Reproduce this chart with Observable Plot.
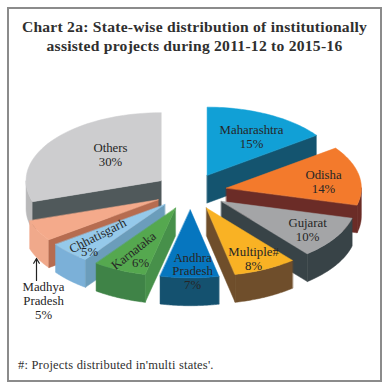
<!DOCTYPE html>
<html>
<head>
<meta charset="utf-8">
<script src="https://cdn.jsdelivr.net/npm/d3@7"></script>
<script src="https://cdn.jsdelivr.net/npm/@observablehq/plot@0.6"></script>
<style>
  html, body { margin: 0; padding: 0; background: #fff; }
  #frame { position: absolute; left: 7px; top: 7px; width: 375px; height: 375px; box-sizing: border-box;
           border: 2px solid #8b8b8b; background: #fff; font-family: "Liberation Serif", serif; color: #2f2f2f; }
  #title { margin: 0; height: 53px; padding-top: 8px; box-sizing: border-box; text-align: center;
           font-size: 15.6px; line-height: 19px; font-weight: bold; letter-spacing: .25px; }
  #chart svg { display: block; }
  #note { margin: 5px 0 0 9px; font-size: 12.5px; line-height: 16px; letter-spacing: .2px; }
</style>
</head>
<body>
<div id="frame">
  <h2 id="title">Chart 2a: State-wise distribution of institutionally<br>assisted projects during 2011-12 to 2015-16</h2>
  <div id="chart"></div>
  <p id="note">#: Projects distributed in'multi states'.</p>
</div>
<script>
// Clockwise from twelve o'clock
const states = ["Maharashtra", "Odisha", "Gujarat", "Multiple#", "Andhra Pradesh", "Karnataka", "Chhatisgarh", "Madhya Pradesh", "Others"];
// Slice sizes (the printed labels are these, rounded)
const shares = [15, 14, 10, 7.6, 7, 6.4, 5, 5, 30];

const topColors   = ["#11a0d6", "#f37a2c", "#a4a5a7", "#f9b224", "#0676bf", "#55a84f", "#95c9ea", "#f4aa8b", "#cdcdcf"];
const cutColors   = ["#14546f", "#6b2c27", "#384347", "#6f4e2b", "#14516f", "#47904a", "#6b9dbb", "#b66c50", "#50595b"];
const outerColors = ["#14546f", "#6b2c27", "#384347", "#6f4e2b", "#14516f", "#3f8347", "#7bb0d8", "#f0a98b", "#b9b9ba"];

// Painter's order, back to front (indexes into states)
const drawOrder = [8, 0, 1, 2, 7, 6, 5, 3, 4];

// Pie units: radius 1; exploded by `explode`, extruded by `depth`
const explode = 0.27;
const depth = 0.41;

const total = d3.sum(shares);
const turn = 2 * Math.PI;
const ends = d3.cumsum(shares).map(v => v / total * turn);
const slices = states.map((name, i) => {
  const a0 = i ? ends[i - 1] : 0, a1 = ends[i], mid = (a0 + a1) / 2;
  return {name, a0, a1, ox: explode * Math.sin(mid), oy: explode * Math.cos(mid),
          top: topColors[i], cut: cutColors[i], outer: outerColors[i]};
});

const arc = (s, a0, a1, drop = 0) => d3.range(0, 41).map(k => {
  const a = a0 + (a1 - a0) * k / 40;
  return [s.ox + Math.sin(a), s.oy + Math.cos(a) - drop];
});
const polygon = (ring, fill) => Plot.line(ring, {x: d => d[0], y: d => d[1], fill, stroke: fill, strokeWidth: 0.5, curve: "linear-closed"});
const cutFace = (s, a, fill) => polygon([
  [s.ox, s.oy], [s.ox + Math.sin(a), s.oy + Math.cos(a)],
  [s.ox + Math.sin(a), s.oy + Math.cos(a) - depth], [s.ox, s.oy - depth]], fill);

const faces = drawOrder.flatMap(i => {
  const s = slices[i], marks = [];
  const f0 = Math.max(s.a0, Math.PI / 2), f1 = Math.min(s.a1, 1.5 * Math.PI);
  if (f1 > f0) marks.push(polygon([...arc(s, f0, f1), ...arc(s, f0, f1, depth).reverse()], s.outer));
  if (Math.sin(s.a0) < -1e-6) marks.push(cutFace(s, s.a0, s.cut));
  if (Math.sin(s.a1) > 1e-6) marks.push(cutFace(s, s.a1, s.cut));
  marks.push(polygon([[s.ox, s.oy], ...arc(s, s.a0, s.a1)], s.top));
  return marks;
});

// Annotations, in pie units
const labels = [
  {t: "Maharashtra\n15%", u: 0.452, v: 0.809},
  {t: "Odisha\n14%", u: 0.985, v: 0.14},
  {t: "Gujarat\n10%", u: 0.867, v: -0.559},
  {t: "Multiple#\n8%", u: 0.467, v: -0.985},
  {t: "Andhra\nPradesh\n7%", u: 0.015, v: -1.169},
  {t: "6%", u: -0.37, v: -1.044},
  {t: "5%", u: -0.748, v: -0.882},
  {t: "Others\n30%", u: -0.593, v: 0.544},
  {t: "Madhya\nPradesh\n5%", u: -1.089, v: -1.603}
];
const tiltedLabels = [
  {t: "Karnataka", u: -0.422, v: -0.868, r: -38},
  {t: "Chhatisgarh", u: -0.689, v: -0.647, r: -27}
];
const pointer = [{u1: -1.141, v1: -1.309, u2: -1.141, v2: -0.985}];

const textStyle = {fontFamily: "Liberation Serif, serif", fontSize: 12.8, fill: "#262626", lineHeight: 1.08};

const chart = Plot.plot({
  width: 371,
  height: 290,
  margin: 0,
  x: {domain: [-1.341, 1.407], axis: null},
  y: {domain: [-2.368, 1.897], axis: null},
  marks: [
    ...faces,
    Plot.arrow(pointer, {x1: "u1", y1: "v1", x2: "u2", y2: "v2", stroke: "#222", strokeWidth: 1.2, headLength: 7, bend: 0}),
    Plot.text(labels, {x: "u", y: "v", text: "t", ...textStyle}),
    ...tiltedLabels.map(d => Plot.text([d], {x: "u", y: "v", text: "t", rotate: d.r, ...textStyle}))
  ]
});
document.getElementById("chart").appendChild(chart);
</script>
</body>
</html>
